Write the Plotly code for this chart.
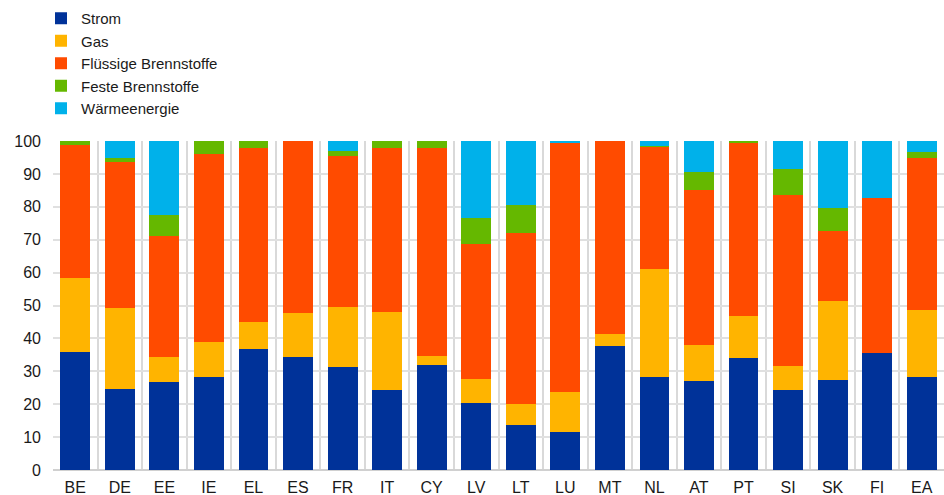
import plotly.graph_objects as go

# Countries (euro area members and the euro area aggregate)
countries = ["BE", "DE", "EE", "IE", "EL", "ES", "FR", "IT", "CY", "LV",
             "LT", "LU", "MT", "NL", "AT", "PT", "SI", "SK", "FI", "EA"]

# Shares of household energy expenditure by energy carrier (percent)
strom = [36.0, 24.7, 26.9, 28.2, 36.7, 34.3, 31.3, 24.4, 31.8, 20.4,
         13.8, 11.6, 37.8, 28.2, 27.0, 33.9, 24.3, 27.3, 35.5, 28.2]
gas = [22.4, 24.4, 7.6, 10.7, 8.2, 13.3, 18.2, 23.6, 2.9, 7.2,
       6.3, 12.1, 3.5, 32.8, 11.0, 12.9, 7.3, 24.0, 0.0, 20.3]
fluessig = [40.4, 44.4, 36.7, 57.0, 53.1, 52.4, 45.9, 49.8, 63.3, 41.1,
            51.8, 75.7, 58.7, 37.2, 47.1, 52.6, 52.0, 21.2, 47.2, 46.3]
fest = [1.2, 1.4, 6.4, 4.1, 2.0, 0.0, 1.6, 2.2, 2.0, 7.8,
        8.7, 0.0, 0.0, 0.2, 5.6, 0.6, 7.9, 7.2, 0.0, 1.9]
waerme = [0.0, 5.1, 22.4, 0.0, 0.0, 0.0, 3.0, 0.0, 0.0, 23.5,
          19.4, 0.6, 0.0, 1.6, 9.3, 0.0, 8.5, 20.3, 17.3, 3.3]

series = [
    ("Strom", strom, "#003299"),
    ("Gas", gas, "#ffb400"),
    ("Flüssige Brennstoffe", fluessig, "#ff4b00"),
    ("Feste Brennstoffe", fest, "#65b800"),
    ("Wärmeenergie", waerme, "#00b1ea"),
]

FONT = "Liberation Sans, Arial, sans-serif"

fig = go.Figure()
for name, values, color in series:
    fig.add_trace(go.Bar(
        x=countries, y=values, name=name,
        marker=dict(color=color, line=dict(width=0)),
    ))

fig.update_layout(
    width=944, height=495,
    barmode="stack",
    bargap=0.33,
    plot_bgcolor="white",
    paper_bgcolor="white",
    margin=dict(l=53, r=0, t=141, b=25, autoexpand=False),
    font=dict(family=FONT, size=16, color="#1a1a1a"),
    legend=dict(
        x=41 / 944, xref="container", xanchor="left",
        y=1 - 2 / 495, yref="container", yanchor="top",
        traceorder="normal",
        font=dict(family=FONT, size=15, color="#1a1a1a"),
        bgcolor="rgba(0,0,0,0)",
        itemclick=False,
    ),
    xaxis=dict(
        type="category",
        tickson="boundaries",
        showgrid=True, gridcolor="#d9d9d9", gridwidth=1.5,
        showline=False,
        ticks="", ticklabelstandoff=6,
        tickfont=dict(size=16),
    ),
    yaxis=dict(
        range=[0, 100],
        dtick=10,
        showgrid=True, gridcolor="#e0e0e0", gridwidth=1.5,
        zeroline=True, zerolinecolor="#d0d0d0", zerolinewidth=1.5,
        ticks="", ticklabelstandoff=11,
        tickfont=dict(size=16),
    ),
)

fig.write_html("out.html")
